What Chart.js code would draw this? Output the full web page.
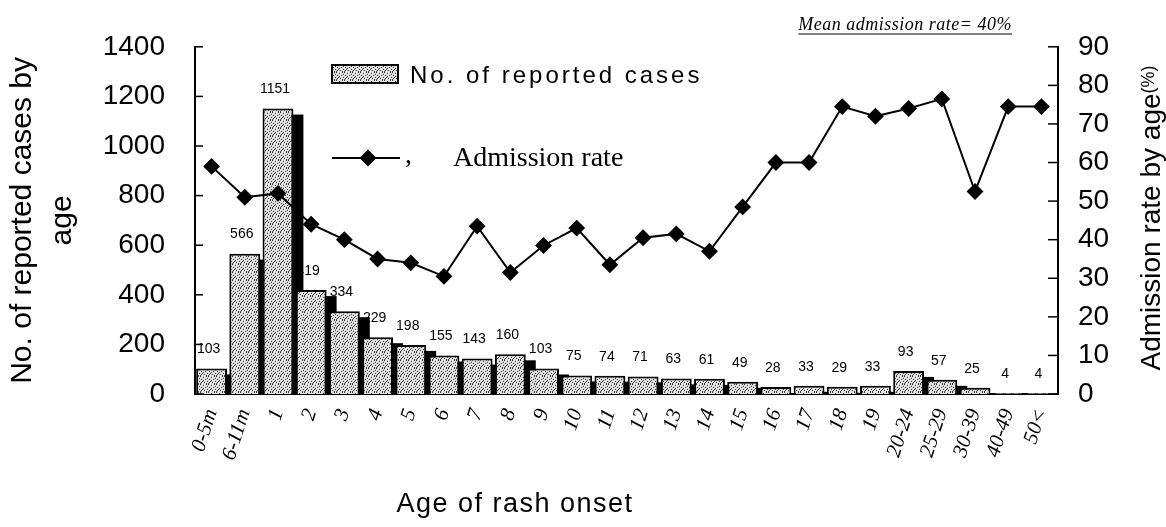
<!DOCTYPE html>
<html>
<head>
<meta charset="utf-8">
<script src="https://cdn.jsdelivr.net/npm/chart.js@4.4.1/dist/chart.umd.min.js"></script>
<style>
html, body { margin: 0; padding: 0; background: #fff; }
</style>
</head>
<body>
<canvas id="Grafica1" width="1166" height="527"></canvas>
<script>
// Age groups and values
const ageLabels = ["0-5m", "6-11m", "1", "2", "3", "4", "5", "6", "7", "8", "9", "10", "11", "12", "13",
	"14", "15", "16", "17", "18", "19", "20-24", "25-29", "30-39", "40-49", "50<"];
const caseCounts = [103, 566, 1151, 419, 334, 229, 198, 155, 143, 160, 103, 75, 74, 71, 63,
	61, 49, 28, 33, 29, 33, 93, 57, 25, 4, 4];
const admissionRate = [59, 51, 52, 44, 40, 35, 34, 30.5, 43.5, 31.5, 38.5, 43, 33.5, 40.5, 41.5,
	37, 48.5, 60, 60, 74.5, 72, 74, 76.5, 52.5, 74.5, 74.5];
const casesTicks = [0, 200, 400, 600, 800, 1000, 1200, 1400];
const rateTicks = [0, 10, 20, 30, 40, 50, 60, 70, 80, 90];

const canvas = document.getElementById("Grafica1");
const ctx = canvas.getContext("2d");

// speckled grey fill like the scanned bars
function makeSpeckle() {
	const c = document.createElement("canvas");
	c.width = 8; c.height = 8;
	const g = c.getContext("2d");
	g.fillStyle = "#dedede";
	g.fillRect(0, 0, 8, 8);
	g.fillStyle = "#3c3c3c";
	const dots = [[0, 0], [3, 1], [6, 0], [1, 3], [5, 3], [7, 5], [2, 5], [4, 6], [0, 7], [6, 7], [3, 4], [7, 2], [1, 6]];
	dots.forEach(d => g.fillRect(d[0], d[1], 1, 1));
	return ctx.createPattern(c, "repeat");
}
const speckle = makeSpeckle();

const sans = '"Liberation Sans", Arial, sans-serif';
const serif = '"Liberation Serif", "Times New Roman", serif';

const decor = {
	id: "decor",
	beforeDatasetsDraw(chart) {
		const c = chart.ctx;
		const area = chart.chartArea;
		const bars = chart.getDatasetMeta(0).data;
		c.save();
		// value labels first, so the bar shadows can hide parts of them as in the original
		c.font = "14px " + sans;
		c.fillStyle = "#000";
		c.textAlign = "center";
		c.textBaseline = "middle";
		bars.forEach((bar, i) => {
			c.fillText(String(caseCounts[i]), bar.x - 3, bar.y - 19);
		});
		// black drop shadow to the right of each bar
		c.beginPath();
		c.rect(area.left, area.top, area.right - area.left, area.bottom - area.top);
		c.clip();
		c.fillStyle = "#000";
		bars.forEach(bar => {
			const p = bar.getProps(["x", "y", "base", "width"], true);
			c.fillRect(p.x - p.width / 2 + 10, p.y + 6, p.width, p.base - p.y);
		});
		c.restore();
	},
	afterDraw(chart) {
		const c = chart.ctx;
		const area = chart.chartArea;
		c.save();
		c.strokeStyle = "#000";
		c.lineWidth = 1.5;

		// inward tick marks on both value axes
		const yl = chart.scales.y, yr = chart.scales.y1;
		yl.ticks.forEach(t => {
			const py = yl.getPixelForValue(t.value);
			c.beginPath(); c.moveTo(area.left, py); c.lineTo(area.left + 8, py); c.stroke();
		});
		yr.ticks.forEach(t => {
			const py = yr.getPixelForValue(t.value);
			c.beginPath(); c.moveTo(area.right, py); c.lineTo(area.right - 10, py); c.stroke();
		});

		// legend
		c.fillStyle = speckle;
		c.fillRect(332, 65, 66, 18);
		c.lineWidth = 2;
		c.strokeRect(332, 65, 66, 18);
		c.fillStyle = "#000";
		c.font = "24px " + sans;
		c.letterSpacing = "3px";
		c.textAlign = "left";
		c.textBaseline = "alphabetic";
		c.fillText("No. of reported cases", 410, 83);
		c.letterSpacing = "0px";

		c.lineWidth = 2;
		c.beginPath(); c.moveTo(332, 158); c.lineTo(400, 158); c.stroke();
		Chart.helpers.drawPoint(c, { pointStyle: "rectRot", radius: 7, rotation: 0, borderWidth: 1 }, 368, 158);
		c.font = "28px " + serif;
		c.fillText(",", 405, 163);
		c.fillText("Admission rate", 453, 166);

		// mean admission rate note
		c.font = "italic 18px " + serif;
		c.letterSpacing = "0.5px";
		c.textAlign = "right";
		c.fillText("Mean admission rate= 40%", 1012, 30);
		const w = c.measureText("Mean admission rate= 40%").width;
		c.letterSpacing = "0px";
		c.lineWidth = 1.2;
		c.beginPath(); c.moveTo(1012 - w, 34); c.lineTo(1012, 34); c.stroke();

		// x axis title
		c.font = "27px " + sans;
		c.letterSpacing = "1.5px";
		c.textAlign = "center";
		c.textBaseline = "middle";
		c.fillText("Age of rash onset", 515, 505);
		c.letterSpacing = "0px";

		// right axis title, reading bottom to top
		c.translate(1160, 218);
		c.rotate(-Math.PI / 2);
		c.textAlign = "left";
		c.textBaseline = "alphabetic";
		c.font = "28px " + sans;
		const main = "Admission rate by age";
		const w1 = c.measureText(main).width;
		c.font = "18px " + sans;
		const w2 = c.measureText("(%)").width;
		c.font = "28px " + sans;
		c.fillText(main, -(w1 + w2) / 2, 0);
		c.font = "18px " + sans;
		c.fillText("(%)", -(w1 + w2) / 2 + w1, -6);
		c.restore();
	}
};

let Grafica1 = new Chart(ctx, {
	type: "bar",
	data: {
		labels: ageLabels,
		datasets: [
			{
				type: "bar",
				label: "No. of reported cases",
				data: caseCounts,
				yAxisID: "y",
				backgroundColor: speckle,
				borderColor: "#000",
				borderWidth: 2,
				barPercentage: 0.93,
				categoryPercentage: 1,
				order: 2,
			},
			{
				type: "line",
				label: "Admission rate",
				data: admissionRate,
				yAxisID: "y1",
				borderColor: "#000",
				backgroundColor: "#000",
				borderWidth: 2,
				pointStyle: "rectRot",
				pointRadius: 7,
				pointBackgroundColor: "#000",
				pointBorderColor: "#000",
				tension: 0,
				order: 1,
			},
		],
	},
	options: {
		responsive: false,
		animation: false,
		layout: { padding: { top: 35, left: 0, right: 0, bottom: 0 } },
		plugins: {
			legend: { display: false },
			tooltip: { enabled: false },
		},
		scales: {
			x: {
				grid: { display: false, drawTicks: false },
				border: { display: true, color: "#000", width: 2 },
				ticks: {
					color: "#000",
					autoSkip: false,
					minRotation: 72,
					maxRotation: 72,
					padding: 12,
					font: { size: 21, family: serif, style: "italic" },
				},
				afterFit(scale) { scale.height = 133; },
			},
			y: {
				position: "left",
				min: 0,
				max: 1400,
				afterBuildTicks(scale) { scale.ticks = casesTicks.map(v => ({ value: v })); },
				grid: { display: false, drawTicks: false },
				border: { display: true, color: "#000", width: 2 },
				ticks: {
					color: "#000",
					padding: 30,
					font: { size: 28, family: sans },
					callback: v => String(v),
				},
				title: {
					display: true,
					text: ["No. of reported cases by", "age"],
					color: "#000",
					padding: { top: 3, bottom: 0 },
					font: { size: 30, family: sans, lineHeight: 1.33 },
				},
				afterFit(scale) { scale.width = 195; },
			},
			y1: {
				position: "right",
				min: 0,
				max: 90,
				afterBuildTicks(scale) { scale.ticks = rateTicks.map(v => ({ value: v })); },
				grid: { display: false, drawTicks: false },
				border: { display: true, color: "#000", width: 2 },
				ticks: {
					color: "#000",
					padding: 20,
					font: { size: 28, family: sans },
					callback: v => String(v),
				},
				afterFit(scale) { scale.width = 108; },
			},
		},
	},
	plugins: [decor],
});
</script>
</body>
</html>
